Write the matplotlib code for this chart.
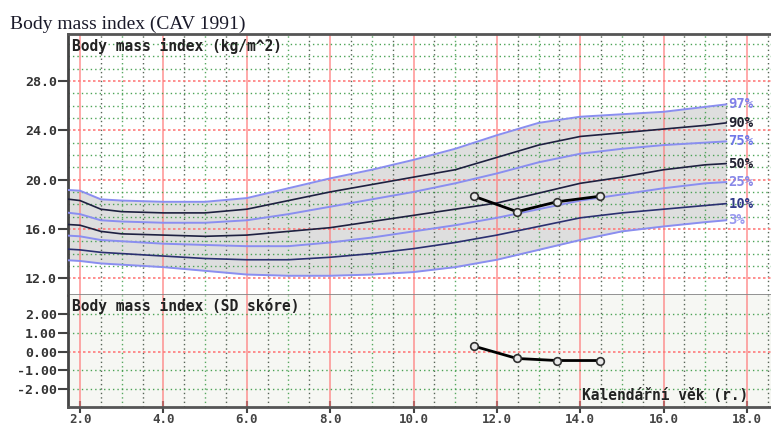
import matplotlib
matplotlib.use('Agg')
import matplotlib.pyplot as plt
import numpy as np

# ---------------- data ----------------
ages = [1.5, 2, 2.5, 3, 4, 5, 6, 7, 8, 9, 10, 11, 12, 13, 14, 15, 16, 17, 17.5]
p97 = [19.2, 19.1, 18.4, 18.3, 18.2, 18.2, 18.5, 19.3, 20.1, 20.8, 21.6, 22.5, 23.6, 24.6, 25.1, 25.3, 25.5, 25.9, 26.1]
p90 = [18.5, 18.3, 17.6, 17.4, 17.3, 17.3, 17.6, 18.3, 19.0, 19.6, 20.2, 20.8, 21.8, 22.8, 23.5, 23.8, 24.1, 24.4, 24.6]
p75 = [17.4, 17.2, 16.7, 16.6, 16.5, 16.5, 16.7, 17.2, 17.8, 18.4, 19.0, 19.7, 20.5, 21.4, 22.1, 22.5, 22.8, 23.0, 23.1]
p50 = [16.4, 16.3, 15.8, 15.6, 15.5, 15.4, 15.5, 15.8, 16.1, 16.6, 17.1, 17.6, 18.1, 18.9, 19.7, 20.2, 20.8, 21.2, 21.3]
p25 = [15.5, 15.4, 15.1, 15.0, 14.8, 14.7, 14.6, 14.6, 14.9, 15.3, 15.8, 16.3, 16.9, 17.6, 18.3, 18.8, 19.3, 19.7, 19.8]
p10 = [14.4, 14.3, 14.1, 14.0, 13.8, 13.6, 13.5, 13.5, 13.7, 14.0, 14.4, 14.9, 15.5, 16.2, 16.9, 17.3, 17.6, 17.9, 18.05]
p03 = [13.5, 13.4, 13.2, 13.1, 12.9, 12.6, 12.3, 12.2, 12.2, 12.3, 12.5, 12.9, 13.5, 14.3, 15.1, 15.8, 16.2, 16.55, 16.7]

percentile_labels = ['97%', '90%', '75%', '50%', '25%', '10%', '3%']

patient_age = [11.45, 12.48, 13.44, 14.47]
patient_bmi = [18.65, 17.4, 18.2, 18.65]
patient_sd = [0.3, -0.36, -0.47, -0.47]

bmi_ticks = [12, 16, 20, 24, 28]
bmi_ticklabels = ['12.0', '16.0', '20.0', '24.0', '28.0']
sd_ticks = [2, 1, 0, -1, -2]
sd_ticklabels = ['2.00', '1.00', '0.00', '-1.00', '-2.00']
age_ticks = [2, 4, 6, 8, 10, 12, 14, 16, 18]
age_ticklabels = ['2.0', '4.0', '6.0', '8.0', '10.0', '12.0', '14.0', '16.0', '18.0']

# ---------------- style ----------------
W, H = 771, 426
fig = plt.figure(figsize=(W / 100, H / 100), dpi=100)
fig.patch.set_facecolor('white')

def rect(l, t, r, b):
    return [l / W, 1 - b / H, (r - l) / W, (b - t) / H]

ax1 = fig.add_axes(rect(68, 34, 771, 295))
ax2 = fig.add_axes(rect(68, 295, 771, 407))

XMIN, XMAX = 1.712, 18.575
MONO = dict(family='DejaVu Sans Mono', weight='bold')
RED = '#ff7b7b'
GREEN = '#3a9a45'
DARKG = '#3a4a3a'

def grid(ax, hmajor, hminor):
    for v in np.arange(2.5, 19, 0.5):
        if v % 2 == 0:
            ax.axvline(v, color=RED, lw=1.3, alpha=0.7, zorder=2)
        else:
            col = DARKG if v % 1 == 0.5 else GREEN
            ax.axvline(v, color=col, lw=1.0, ls=(0, (1, 2.2)), alpha=0.85, zorder=2)
    ax.axvline(2, color=RED, lw=1.3, alpha=0.7, zorder=2)
    for h in hmajor:
        ax.axhline(h, color=RED, lw=1.2, ls=(0, (1.5, 1.5)), zorder=2)
    for h in hminor:
        ax.axhline(h, color=GREEN, lw=1.0, ls=(0, (1, 2.2)), alpha=0.9, zorder=2)

# ---- top panel ----
ax1.set_xlim(XMIN, XMAX)
ax1.set_ylim(10.64, 31.81)
ax1.set_facecolor('white')
grid(ax1, bmi_ticks, [v for v in range(13, 32) if v % 4 != 0])

ax1.fill_between(ages, p03, p97, color='#d9d9d9', alpha=0.85, zorder=1, lw=0)
curves = [p97, p90, p75, p50, p25, p10, p03]
light = '#8a8ef0'
dark = '#1e2040'
colors = [light, dark, light, dark, light, '#2a2f70', light]
lcolors = ['#8080e8', '#202030', '#7078e8', '#202030', '#8888e8', '#303a88', '#9a9af0']
for c, col, lab, lc in zip(curves, colors, percentile_labels, lcolors):
    ax1.plot(ages, c, color=col, lw=1.4 if col == light else 1.2, zorder=3)
    ax1.text(ages[-1] + 0.05, c[-1], lab, color=lc, fontsize=10, va='center', ha='left',
             zorder=5, **MONO)

ax1.plot(patient_age, patient_bmi, color='black', lw=2, zorder=6,
         marker='o', ms=5.5, mfc='#e8e8e8', mec='#303030', mew=1.2)

ax1.set_yticks(bmi_ticks)
ax1.set_yticklabels(bmi_ticklabels, fontsize=9.5, color='#333333', **MONO)
ax1.set_xticks([])
ax1.tick_params(axis='y', direction='out', length=7, width=1.5, color='#444444', pad=1)
ax1.spines['right'].set_visible(False)
ax1.spines['top'].set_color('#555555'); ax1.spines['top'].set_linewidth(2)
ax1.spines['left'].set_color('#444444'); ax1.spines['left'].set_linewidth(2)
ax1.spines['bottom'].set_color('#888888'); ax1.spines['bottom'].set_linewidth(2)
ax1.text(0.006, 0.985, 'Body mass index (kg/m^2)', transform=ax1.transAxes, fontsize=10.5,
         color='#222222', va='top', ha='left', zorder=7, **MONO)

# ---- bottom panel ----
ax2.set_xlim(XMIN, XMAX)
ax2.set_ylim(-2.96, 3.04)
ax2.set_facecolor('#f6f7f3')
grid(ax2, [0], [-2, -1, 1, 2])
ax2.plot(patient_age, patient_sd, color='black', lw=2, zorder=6,
         marker='o', ms=5.5, mfc='#e8e8e8', mec='#303030', mew=1.2)
ax2.set_yticks(sd_ticks)
ax2.set_yticklabels(sd_ticklabels, fontsize=9.5, color='#333333', **MONO)
ax2.set_xticks(age_ticks)
ax2.set_xticklabels(age_ticklabels, fontsize=9, color='#444444', **MONO)
ax2.tick_params(axis='y', direction='out', length=7, width=1.5, color='#444444', pad=1)
ax2.tick_params(axis='x', direction='inout', length=8, width=1.5, color='#444444', pad=0.5)
for s in ['right', 'top']:
    ax2.spines[s].set_visible(False)
ax2.spines['left'].set_color('#444444'); ax2.spines['left'].set_linewidth(2)
ax2.spines['bottom'].set_color('#555555'); ax2.spines['bottom'].set_linewidth(2)
ax2.text(0.006, 0.97, 'Body mass index (SD skóre)', transform=ax2.transAxes, fontsize=10.5,
         color='#222222', va='top', ha='left', zorder=7, **MONO)
ax2.text(0.731, 0.04, 'Kalendářní věk (r.)', transform=ax2.transAxes, fontsize=10.5,
         color='#222222', va='bottom', ha='left', zorder=7, clip_on=False, **MONO)

fig.text(10 / W, 1 - 29 / H, 'Body mass index (CAV 1991)', family='Liberation Serif',
         fontsize=14, color='#1a1a2a', ha='left', va='baseline')

fig.savefig('out.png', dpi=100, facecolor='white')
